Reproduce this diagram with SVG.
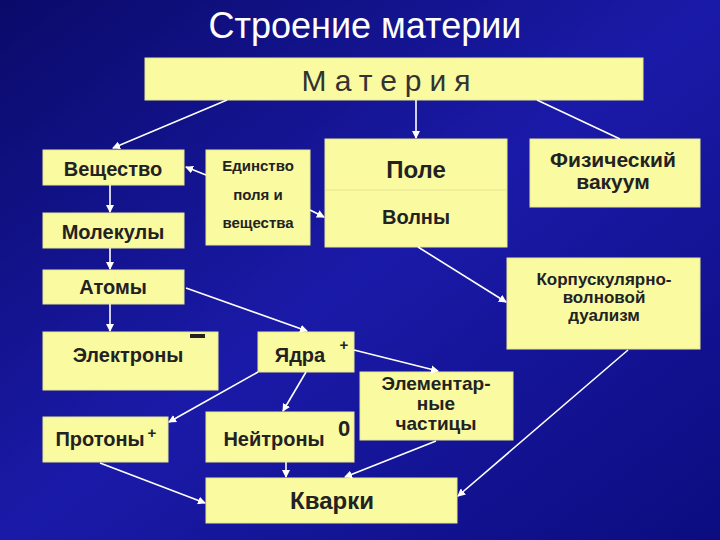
<svg xmlns="http://www.w3.org/2000/svg" width="720" height="540" viewBox="0 0 720 540">
<defs>
<linearGradient id="bg" x1="0" y1="0" x2="1" y2="1"><stop offset="0" stop-color="#0a0a6a"/><stop offset="0.5" stop-color="#1a1aa8"/><stop offset="1" stop-color="#0c0c80"/></linearGradient>
<marker id="a" markerWidth="8" markerHeight="8" refX="7" refY="4" orient="auto" markerUnits="userSpaceOnUse"><path d="M0,0 L8,4 L0,8 z" fill="#fff"/></marker>
<style>
.b{fill:#fafaa0;stroke:#e8e890;stroke-width:1}
.t{font-family:"Liberation Sans",Arial,sans-serif;font-weight:bold;fill:#222;text-anchor:middle}
.c line{stroke:#fff;stroke-width:1.6;marker-end:url(#a)}
</style>
</defs>
<rect width="720" height="540" fill="url(#bg)"/>
<text x="365" y="38" font-family="Liberation Sans,Arial,sans-serif" font-size="36" fill="#fff" text-anchor="middle">Строение материи</text>
<g id="materia"><rect class="b" x="145" y="58" width="498" height="42"/><text class="t" x="390" y="91" font-size="30" style="font-weight:normal;fill:#333" letter-spacing="8">Материя</text></g>
<g id="veshchestvo"><rect class="b" x="43" y="150" width="141" height="35"/><text class="t" x="113" y="176" font-size="20">Вещество</text></g>
<g id="molekuly"><rect class="b" x="43" y="213" width="141" height="35"/><text class="t" x="113" y="239" font-size="20">Молекулы</text></g>
<g id="edinstvo"><rect class="b" x="206" y="150" width="104" height="95"/><text class="t" font-size="15"><tspan x="258" y="171">Единство</tspan><tspan x="258" y="200">поля и</tspan><tspan x="258" y="228">вещества</tspan></text></g>
<g id="pole"><rect class="b" x="325" y="139" width="182" height="108"/><line x1="325" y1="190" x2="507" y2="190" stroke="#e6e290" stroke-width="1"/><text class="t" x="416" y="178" font-size="24">Поле</text><text class="t" x="416" y="224" font-size="20">Волны</text></g>
<g id="vakuum"><rect class="b" x="530" y="139" width="170" height="68"/><text class="t" font-size="21"><tspan x="613" y="167">Физический</tspan><tspan x="613" y="189">вакуум</tspan></text></g>
<g id="dualizm"><rect class="b" x="507" y="258" width="193" height="91"/><text class="t" font-size="17"><tspan x="604" y="285">Корпускулярно-</tspan><tspan x="604" y="303">волновой</tspan><tspan x="604" y="321">дуализм</tspan></text></g>
<g id="atomy"><rect class="b" x="43" y="270" width="141" height="34"/><text class="t" x="113" y="294" font-size="20">Атомы</text></g>
<g id="elektrony"><rect class="b" x="43" y="332" width="175" height="58"/><text class="t" x="128" y="362" font-size="20">Электроны</text><rect x="190" y="334" width="15" height="4" fill="#222"/></g>
<g id="yadra"><rect class="b" x="258" y="332" width="96" height="40"/><text class="t" x="300" y="362" font-size="20">Ядра</text><text class="t" x="344" y="350" font-size="15">+</text></g>
<g id="elementarnye"><rect class="b" x="360" y="372" width="153" height="68"/><text class="t" font-size="19"><tspan x="436" y="390">Элементар-</tspan><tspan x="436" y="410">ные</tspan><tspan x="436" y="430">частицы</tspan></text></g>
<g id="protony"><rect class="b" x="43" y="417" width="125" height="45"/><text class="t" x="100" y="446" font-size="20">Протоны</text><text class="t" x="152" y="438" font-size="15">+</text></g>
<g id="neitrony"><rect class="b" x="206" y="412" width="148" height="50"/><text class="t" x="274" y="446" font-size="20">Нейтроны</text><text class="t" x="344" y="436" font-size="22">0</text></g>
<g id="kvarki"><rect class="b" x="206" y="478" width="251" height="45"/><text class="t" x="332" y="509" font-size="24">Кварки</text></g>
<g class="c" id="connectors">
<line x1="227" y1="100" x2="113" y2="148"/>
<line x1="416" y1="100" x2="416" y2="138"/>
<line x1="537" y1="100" x2="620" y2="139" style="marker-end:none"/>
<line x1="206" y1="175" x2="186" y2="167"/>
<line x1="310" y1="210" x2="324" y2="217"/>
<line x1="110" y1="185" x2="110" y2="212"/>
<line x1="110" y1="248" x2="110" y2="269"/>
<line x1="110" y1="304" x2="110" y2="331"/>
<line x1="186" y1="288" x2="307" y2="331"/>
<line x1="418" y1="247" x2="506" y2="302"/>
<line x1="354" y1="350" x2="438" y2="371"/>
<line x1="258" y1="372" x2="169" y2="422"/>
<line x1="306" y1="372" x2="283" y2="411"/>
<line x1="100" y1="463" x2="205" y2="503"/>
<line x1="286" y1="462" x2="286" y2="477"/>
<line x1="436" y1="441" x2="345" y2="477"/>
<line x1="628" y1="350" x2="458" y2="496"/>
</g>
</svg>
